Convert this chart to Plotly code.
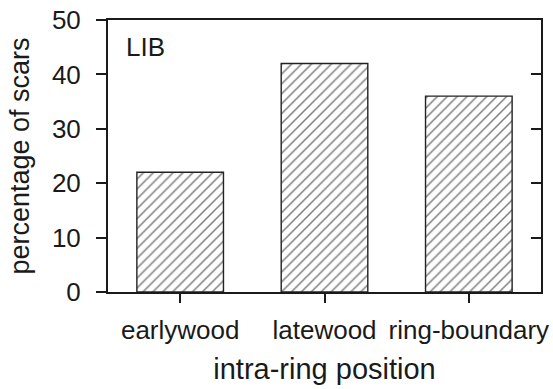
import plotly.graph_objects as go

# Share of scars by position within the annual ring (site LIB)
positions = ["earlywood", "latewood", "ring-boundary"]
scar_pct = [22, 42, 36]
y_ticks = [0, 10, 20, 30, 40, 50]
site_label = "LIB"

INK = "#1a1a1a"
FONT = "Liberation Sans, Arial, Helvetica, sans-serif"

fig = go.Figure()
fig.add_trace(go.Bar(
    x=positions,
    y=scar_pct,
    width=0.6,
    marker=dict(
        color="white",
        line=dict(color="#222222", width=1.4),
        pattern=dict(shape="/", size=7, solidity=0.22,
                     fgcolor="#000000", bgcolor="white", fillmode="overlay"),
    ),
    showlegend=False,
    hoverinfo="x+y",
))
# invisible companion trace so the right-hand (inward tick) axis is drawn
fig.add_trace(go.Scatter(
    x=positions, y=scar_pct, yaxis="y2", mode="markers",
    marker=dict(opacity=0), showlegend=False, hoverinfo="skip",
))

fig.update_layout(
    width=553, height=389,
    margin=dict(l=108, r=12, t=20, b=97, autoexpand=False),
    plot_bgcolor="white", paper_bgcolor="white",
    font=dict(family=FONT, color=INK),
    xaxis=dict(
        range=[-0.5, 2.5], automargin=False,
        showline=True, linecolor=INK, linewidth=2, mirror=True,
        ticks="outside", ticklen=9, tickwidth=1.5, tickcolor=INK,
        tickfont=dict(size=26, color=INK), ticklabelstandoff=5,
        title=dict(text="intra-ring position", font=dict(size=29, color=INK), standoff=14),
        showgrid=False, zeroline=False,
    ),
    yaxis=dict(
        range=[0, 50], automargin=False,
        tickvals=y_ticks,
        showline=True, linecolor=INK, linewidth=2, mirror=True,
        ticks="outside", ticklen=10, tickwidth=1.5, tickcolor=INK,
        tickfont=dict(size=26, color=INK), ticklabelstandoff=10,
        title=dict(text="percentage of scars", font=dict(size=27, color=INK), standoff=14),
        showgrid=False, zeroline=False,
    ),
    yaxis2=dict(
        range=[0, 50], automargin=False,
        tickvals=y_ticks,
        overlaying="y", side="right", anchor="x",
        ticks="inside", ticklen=10, tickwidth=1.5, tickcolor=INK,
        showticklabels=False, showline=False, showgrid=False, zeroline=False,
    ),
    annotations=[dict(
        text=site_label, xref="paper", yref="paper",
        x=0.037, y=0.90, xanchor="left", yanchor="middle",
        showarrow=False, font=dict(size=26, color=INK),
    )],
)

fig.write_html("out.html")
